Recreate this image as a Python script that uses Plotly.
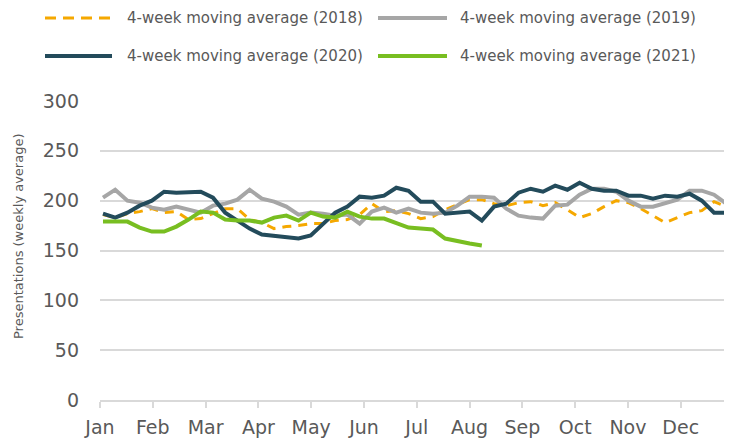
import plotly.graph_objects as go

months = ["Jan", "Feb", "Mar", "Apr", "May", "Jun", "Jul", "Aug", "Sep", "Oct", "Nov", "Dec"]

avg_2018 = [186, 183, 187, 189, 192, 188, 189, 181, 182, 187, 192, 192, 181, 178, 172, 174, 175, 177, 177, 180,
            181, 186, 197, 189, 190, 187, 182, 184, 191, 196, 201, 201, 197, 195, 198, 199, 195, 198, 191, 183,
            187, 194, 200, 198, 192, 185, 178, 183, 188, 190, 199, 194]
avg_2019 = [203, 211, 200, 198, 193, 191, 194, 191, 188, 195, 197, 201, 211, 202, 199, 194, 186, 188, 187, 185,
            186, 177, 189, 193, 188, 192, 188, 187, 188, 195, 204, 204, 203, 192, 185, 183, 182, 195, 196, 206,
            212, 212, 209, 200, 194, 194, 197, 201, 210, 210, 206, 197]
avg_2020 = [187, 183, 188, 195, 200, 209, 208, 208, 209, 203, 188, 180, 172, 166, 165, 163, 162, 165, 177, 188,
            194, 204, 203, 205, 213, 210, 199, 199, 187, 188, 189, 180, 194, 197, 208, 212, 209, 215, 211, 218,
            212, 210, 210, 205, 205, 202, 205, 204, 207, 200, 188, 188]
avg_2021 = [179, 179, 179, 173, 169, 169, 174, 181, 189, 188, 181, 180, 180, 178, 183, 185, 180, 188, 184, 183,
            189, 184, 182, 182, 177, 173, 172, 171, 162, 159, 157, 155]

series = [
    ("4-week moving average (2018)", avg_2018, "#F5A800", 3, "9px,7px"),
    ("4-week moving average (2019)", avg_2019, "#A6A6A6", 4, "solid"),
    ("4-week moving average (2020)", avg_2020, "#234B5B", 4, "solid"),
    ("4-week moving average (2021)", avg_2021, "#78BE21", 4, "solid"),
]

TXT = "#595959"
GRID = "#D9D9D9"
FONT = "DejaVu Sans"

# page body has an 8px default margin: figure is drawn 8px in from the window edges
OFF = 8
PL, PT, PW, PH = 100 - OFF, 101 - OFF, 632, 299
FW, FH = 732 - OFF, 443 - OFF

fig = go.Figure()
for name, vals, col, w, dash in series:
    fig.add_trace(go.Scatter(
        x=list(range(len(vals))), y=vals, mode="lines", name=name,
        line=dict(color=col, width=w, dash=dash), showlegend=False,
        hoverinfo="skip"))

step = 4.32
tickvals = [-0.245 + k * step for k in range(len(months))]

fig.update_layout(
    width=FW, height=FH,
    margin=dict(l=PL, r=FW - PL - PW, t=PT, b=FH - PT - PH, autoexpand=False),
    paper_bgcolor="white", plot_bgcolor="white",
    font=dict(family=FONT, color=TXT),
    xaxis=dict(range=[-0.245, 51.47], tickvals=tickvals, ticktext=months,
               showgrid=False, zeroline=False, showline=True, linecolor=GRID, linewidth=2,
               ticks="outside", ticklen=6, tickwidth=1.5, tickcolor=GRID, ticklabelstandoff=3,
               tickfont=dict(size=19, color=TXT, family=FONT), fixedrange=True),
    yaxis=dict(range=[0, 300], tickvals=[0, 50, 100, 150, 200, 250, 300],
               showgrid=True, gridcolor=GRID, gridwidth=2, zeroline=False,
               showline=False, ticks="", ticklabelstandoff=20,
               tickfont=dict(size=19, color=TXT, family=FONT), fixedrange=True),
)

def px(x):
    return (x - 100) / PW

def py(y):
    return (400 - y) / PH

# y-axis title
fig.add_annotation(text="Presentations (weekly average)", xref="paper", yref="paper",
                   x=px(18), y=py(236), textangle=-90, showarrow=False,
                   xanchor="center", yanchor="middle", font=dict(size=13, color=TXT, family=FONT))

# legend (drawn manually to match long symbol lines)
leg_rows = [py(18), py(56)]
leg_cols = [(px(45), px(112), px(125)), (px(378), px(447), px(458))]
for idx, (name, vals, col, w, dash) in enumerate(series):
    r, c = divmod(idx, 2)
    x0, x1, xt = leg_cols[c]
    y = leg_rows[r]
    fig.add_shape(type="line", xref="paper", yref="paper", x0=x0, x1=x1, y0=y, y1=y,
                  line=dict(color=col, width=4 if dash == "solid" else 3,
                            dash="solid" if dash == "solid" else "11px,7px"))
    fig.add_annotation(text=name, xref="paper", yref="paper", x=xt, y=y, showarrow=False,
                       xanchor="left", yanchor="middle", font=dict(size=15, color=TXT, family=FONT))

fig.write_html("out.html")
